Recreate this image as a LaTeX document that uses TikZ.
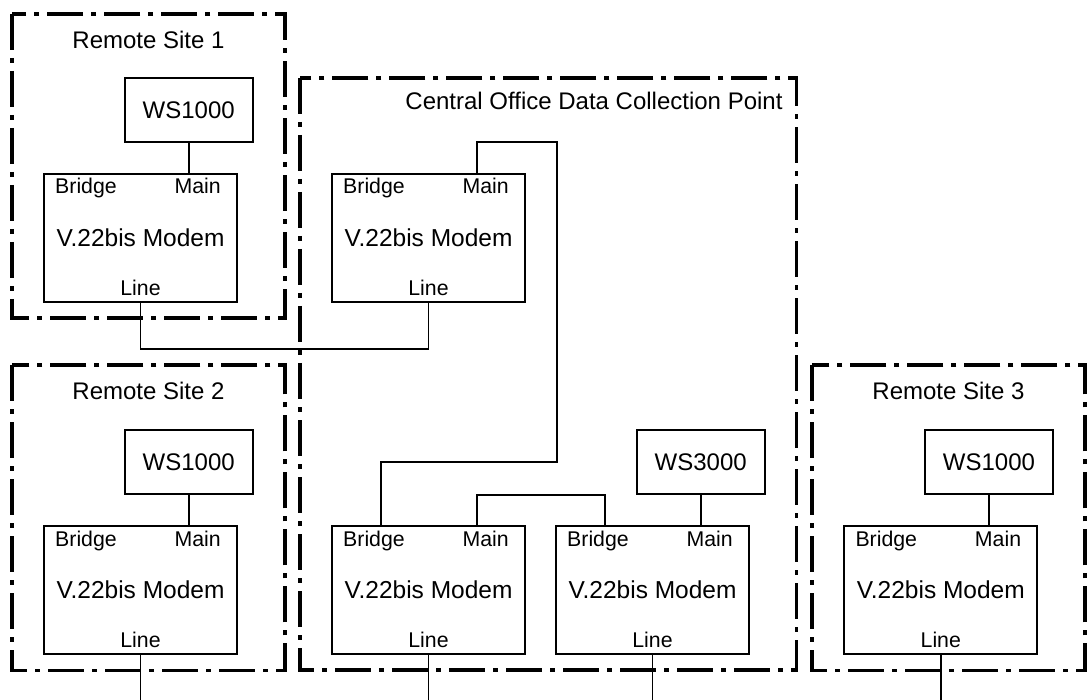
\documentclass[tikz,border=0pt]{standalone}
\usepackage{fontspec}
\setmainfont{Liberation Sans}
\usetikzlibrary{calc}
\newcommand\modemports[1]{%
  \node[port,anchor=base west] (#1-bl) at ([xshift=11pt,yshift=-20pt]#1.north west) {Bridge};
  \node[port,anchor=base east] (#1-ml) at ([xshift=-16pt,yshift=-20pt]#1.north east) {Main};
  \node[port,anchor=base] (#1-ll) at ([yshift=6.3pt]#1.south) {Line};
  \coordinate (#1-bp) at ([xshift=48.7pt]#1.north west);
  \coordinate (#1-mp) at ([xshift=144.7pt]#1.north west);
}
\begin{document}
\begin{tikzpicture}[x=1pt,y=-1pt,
  site/.style={line width=3.3pt, dash pattern=on 36pt off 8pt on 5pt off 8pt},
  modem/.style={draw, line width=1.8pt, minimum width=193pt, minimum height=128pt,
    inner sep=0pt, outer sep=0pt, font=\fontsize{24.5}{28}\selectfont},
  ws/.style={draw, line width=1.8pt, minimum width=128pt, minimum height=64pt,
    inner sep=0pt, outer sep=0pt, font=\fontsize{24}{28}\selectfont},
  title/.style={inner sep=0pt, font=\fontsize{24}{28}\selectfont},
  port/.style={inner sep=0pt, font=\fontsize{21.3}{25}\selectfont},
  wire/.style={line width=1.8pt}]
\useasboundingbox (0,0) rectangle (1092,700);
\coordinate (bottom) at (0,700);

% group boxes
\draw[site] (12,14) rectangle (285,318);
\draw[site] (300,78) rectangle (796.7,670);
\draw[site] (12,365) rectangle (285,670.7);
\draw[site] (812,365) rectangle (1085,670.7);

% titles
\node[title,anchor=base] (t1) at (148.5,48.3) {Remote Site 1};
\node[title,anchor=base east] (tc) at (782.7,110) {Central Office Data Collection Point};
\node[title,anchor=base] (t2) at (148.5,399.5) {Remote Site 2};
\node[title,anchor=base] (t3) at (948.5,399.5) {Remote Site 3};

% workstations
\node[ws] (s1ws) at (188.7,110) {WS1000};
\node[ws] (s2ws) at (188.7,462) {WS1000};
\node[ws] (cws)  at (700.7,462) {WS3000};
\node[ws] (s3ws) at (989,462) {WS1000};

% modems
\node[modem] (s1m) at (140.5,237.7) {V.22bis Modem};
\node[modem] (c1m) at (428.5,238) {V.22bis Modem};
\node[modem] (c2m) at (428.5,590) {V.22bis Modem};
\node[modem] (c3m) at (652.5,590) {V.22bis Modem};
\node[modem] (s2m) at (140.5,590) {V.22bis Modem};
\node[modem] (s3m) at (940.8,590) {V.22bis Modem};
\modemports{s1m}
\modemports{c1m}
\modemports{c2m}
\modemports{c3m}
\modemports{s2m}
\modemports{s3m}

% connectors
\draw[wire] (s1ws.south) -- (s1m-mp);
\draw[wire] (s2ws.south) -- (s2m-mp);
\draw[wire] (s3ws.south) -- (s3m-mp);
\draw[wire] (cws.south) -- (c3m-mp);
\draw[wire] (s1m.south) -- ++(0,47.3) -| (c1m.south);
\draw[wire] (c1m-mp) |- (556.7,141.7) -- (556.7,461.7) -| (c2m-bp);
\draw[wire] (c2m-mp) -- ++(0,-31.4) -| (c3m-bp);
\draw[wire] (s2m.south) -- (s2m.south |- bottom);
\draw[wire] (c2m.south) -- (c2m.south |- bottom);
\draw[wire] (c3m.south) -- (c3m.south |- bottom);
\draw[wire] (s3m.south) -- (s3m.south |- bottom);
\end{tikzpicture}
\end{document}
